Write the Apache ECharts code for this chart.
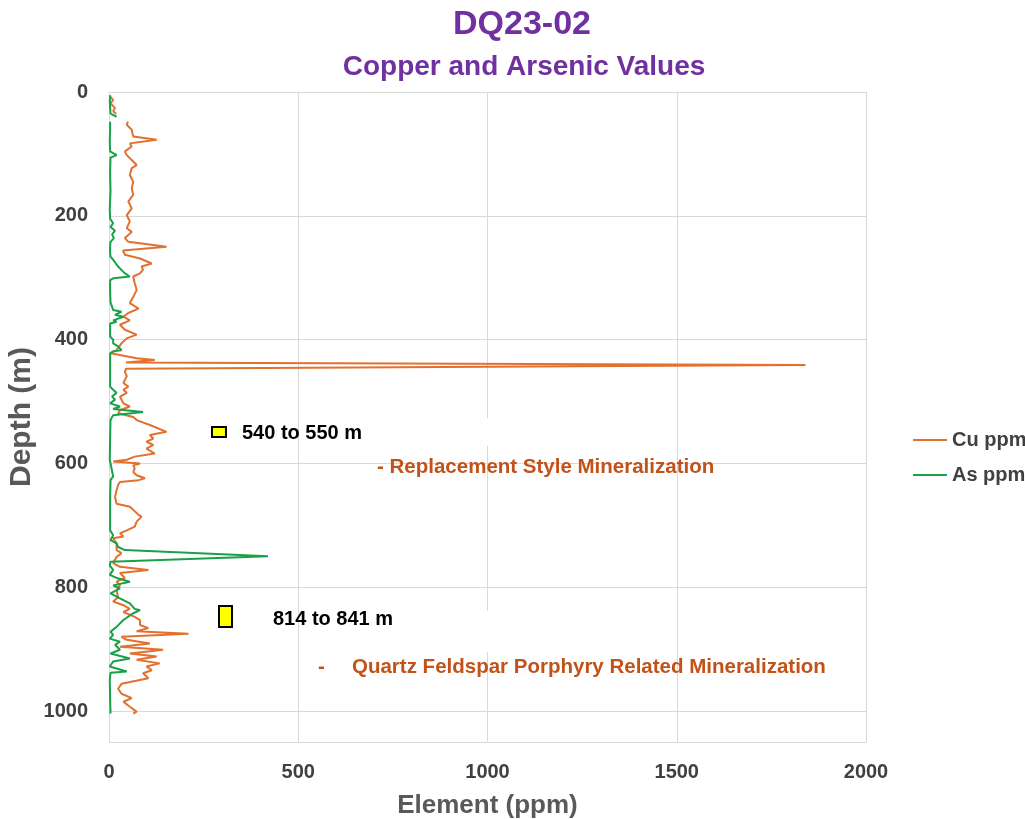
<!DOCTYPE html>
<html>
<head>
<meta charset="utf-8">
<title>DQ23-02 Copper and Arsenic Values</title>
<script src="https://cdn.jsdelivr.net/npm/echarts@6/dist/echarts.min.js"></script>
<style>
  html, body { margin: 0; padding: 0; background: #ffffff; }
  #chart { width: 1025px; height: 819px; }
</style>
</head>
<body>
<div id="chart"></div>
<script>
// Downhole assay profile for hole DQ23-02 (depth in metres, values in ppm).
// A null entry marks a gap in sampling.
const cuDepth = [8, 13, 18, 26, 31, 35, null,
  48, 53, 61, 72, 77, 83, 88, 96, 102, 118, 123, 134, 145, 156, 166, 177, 188, 199, 209, 220, 226, 236, 242, 250, 256,
  263, 269, 277, 282, 287, 293, 298, 309, 320, 331, 341, 350, 357, 363, 369, 376, 384, 392, 398, 406, 417, 422,
  430, 433, 437, 441, 447, 452, 459, 470, 476, 481, 486, 492, 503, 508, 514, 519, 525, 530, 538, 549, 554, 560,
  565, 570, 576, 584, 589, 594, 597, 600, 603, 608, 614, 619, 624, 627, 630, 635, 643, 654, 665, 670, 675, 683,
  686, 694, 702, 708, 713, 718, 721, 729, 740, 745, 751, 761, 767, 772, 777, 785, 791, 797, 805, 816, 823, 829,
  835, 840, 848, 853, 861, 866, 871, 875, 880, 885, 891, 896, 901, 907, 912, 917, 923, 928, 934, 939, 947, 956,
  964, 972, 979, 985, 993, 1001, 1004];
const cuPpm = [4, 11, 4, 16, 11, 19, null,
  50, 47, 60, 64, 126, 55, 60, 42, 47, 73, 60, 55, 64, 60, 64, 51, 60, 47, 55, 47, 60, 42, 51, 152, 37,
  42, 82, 113, 86, 90, 82, 64, 68, 73, 64, 55, 78, 51, 38, 55, 29, 42, 73, 47, 33, 20, 4,
  73, 121, 45, 1840, 45, 42, 47, 38, 51, 38, 47, 29, 38, 55, 29, 24, 64, 73, 108, 152, 108, 117,
  99, 117, 99, 121, 68, 47, 11, 82, 64, 68, 64, 73, 95, 78, 29, 24, 20, 16, 20, 55, 64, 78,
  86, 73, 68, 47, 29, 38, 11, 20, 20, 33, 20, 11, 29, 104, 29, 42, 20, 29, 20, 24, 11, 38,
  55, 38, 68, 82, 82, 104, 73, 210, 33, 47, 108, 29, 143, 55, 126, 73, 134, 99, 113, 90, 104, 33,
  24, 33, 60, 38, 55, 73, 64];

const asDepth = [5, 15, 25, 35, 40, null,
  48, 60, 80, 96, 102, 106, 130, 160, 190, 205, 212, 218, 224, 230, 236, 242, 250, 260, 266, 271, 282, 293,
  298, 301, 304, 320, 340, 352, 355, 360, 363, 369, 371, 374, 395, 400, 406, 411, 417, 419, 422, 450, 476,
  481, 486, 492, 497, 503, 508, 512, 517, 522, 530, 560, 594, 621, 627, 660, 708, 716, 724, 729, 735, 740,
  750, 759, 765, 772, 780, 785, 791, 797, 802, 810, 818, 826, 835, 837, 842, 853, 864, 872, 877, 883, 888,
  893, 901, 907, 915, 920, 928, 936, 938, 950, 980, 1004];
const asPpm = [3, 2, 3, 4, 20, null,
  3, 3, 2, 3, 20, 4, 3, 4, 2, 3, 11, 4, 16, 8, 13, 4, 3, 3, 4, 11, 24, 42,
  55, 11, 3, 3, 4, 11, 33, 16, 38, 11, 20, 3, 3, 11, 11, 24, 33, 11, 3, 3, 3,
  11, 20, 8, 16, 3, 29, 11, 90, 11, 4, 3, 2, 11, 4, 3, 3, 11, 4, 20, 24, 42,
  420, 4, 2, 11, 2, 20, 55, 11, 29, 4, 29, 55, 68, 82, 64, 38, 20, 4, 11, 2, 29,
  16, 29, 4, 55, 11, 2, 47, 4, 2, 3, 4];

const depthTicks = [0, 200, 400, 600, 800, 1000];
const ppmTicks = [0, 500, 1000, 1500, 2000];

function toPairs(depths, values) {
  return depths.map((d, i) => (d === null ? ['-', '-'] : [values[i], d]));
}

const axisText = { color: '#404040', fontFamily: 'Liberation Sans', fontWeight: 'bold', fontSize: 20 };
const noteFont = 'bold 20px "Liberation Sans"';
const remarkFont = 'bold 20.5px "Liberation Sans"';

const chart = echarts.init(document.getElementById('chart'), null, { renderer: 'canvas' });
chart.setOption({
  animation: false,
  backgroundColor: '#ffffff',
  title: [
    {
      text: 'DQ23-02', left: 517, top: 3, textAlign: 'center',
      textStyle: { color: '#7030a0', fontFamily: 'Liberation Sans', fontWeight: 'bold', fontSize: 34 }
    },
    {
      text: 'Copper and Arsenic Values', left: 519, top: 48, textAlign: 'center',
      textStyle: { color: '#7030a0', fontFamily: 'Liberation Sans', fontWeight: 'bold', fontSize: 28 }
    }
  ],
  legend: {
    orient: 'vertical', left: 908, top: 425, itemGap: 15,
    itemWidth: 34, itemHeight: 2, icon: 'rect',
    textStyle: axisText,
    data: ['Cu ppm', 'As ppm']
  },
  grid: { left: 109, top: 92, width: 757, height: 650, containLabel: false, outerBoundsMode: 'none' },
  xAxis: {
    type: 'value', min: 0, max: 2000, interval: 500,
    name: 'Element (ppm)', nameLocation: 'middle', nameGap: 51,
    nameTextStyle: { color: '#595959', fontFamily: 'Liberation Sans', fontWeight: 'bold', fontSize: 26 },
    axisLine: { show: true, lineStyle: { color: '#d9d9d9', width: 1 } },
    axisTick: { show: false },
    axisLabel: { ...axisText, margin: 20, formatter: v => (ppmTicks.includes(v) ? String(v) : '') },
    splitLine: { show: true, lineStyle: { color: '#d9d9d9', width: 1 } }
  },
  yAxis: {
    type: 'value', inverse: true, min: 0, max: 1050, interval: 200,
    name: 'Depth (m)', nameLocation: 'middle', nameGap: 72, nameRotate: 90, nameMoveOverlap: false,
    nameTextStyle: { color: '#595959', fontFamily: 'Liberation Sans', fontWeight: 'bold', fontSize: 30 },
    axisLine: { show: true, lineStyle: { color: '#d9d9d9', width: 1 } },
    axisTick: { show: false },
    axisLabel: { ...axisText, margin: 21, formatter: v => (depthTicks.includes(v) ? String(v) : '') },
    splitLine: { show: true, lineStyle: { color: '#d9d9d9', width: 1 } }
  },
  series: [
    {
      name: 'Cu ppm', type: 'line', symbol: 'none', connectNulls: false,
      color: '#e2702f', lineStyle: { color: '#e2702f', width: 2 },
      data: toPairs(cuDepth, cuPpm), z: 3
    },
    {
      name: 'As ppm', type: 'line', symbol: 'none', connectNulls: false,
      color: '#18a148', lineStyle: { color: '#18a148', width: 2 },
      data: toPairs(asDepth, asPpm), z: 4
    }
  ],
  graphic: [
    // white label backgrounds over the grid
    { type: 'rect', shape: { x: 384, y: 418, width: 112, height: 28 }, style: { fill: '#ffffff' }, z: 10 },
    { type: 'rect', shape: { x: 410, y: 611, width: 86, height: 41 }, style: { fill: '#ffffff' }, z: 10 },
    // interval markers
    { type: 'rect', shape: { x: 212, y: 427, width: 14, height: 10 }, style: { fill: '#ffff00', stroke: '#000000', lineWidth: 2 }, z: 11 },
    { type: 'rect', shape: { x: 219, y: 606, width: 13, height: 21 }, style: { fill: '#ffff00', stroke: '#000000', lineWidth: 2 }, z: 11 },
    { type: 'text', x: 242, y: 433, style: { text: '540 to 550 m', font: noteFont, fill: '#000000', textVerticalAlign: 'middle' }, z: 11 },
    { type: 'text', x: 377, y: 467, style: { text: '- Replacement Style Mineralization', font: remarkFont, fill: '#c0521a', textVerticalAlign: 'middle' }, z: 11 },
    { type: 'text', x: 273, y: 619, style: { text: '814 to 841 m', font: noteFont, fill: '#000000', textVerticalAlign: 'middle' }, z: 11 },
    { type: 'text', x: 318, y: 667, style: { text: '-', font: remarkFont, fill: '#c0521a', textVerticalAlign: 'middle' }, z: 11 },
    { type: 'text', x: 352, y: 667, style: { text: 'Quartz Feldspar Porphyry Related Mineralization', font: remarkFont, fill: '#c0521a', textVerticalAlign: 'middle' }, z: 11 }
  ]
});
</script>
</body>
</html>
